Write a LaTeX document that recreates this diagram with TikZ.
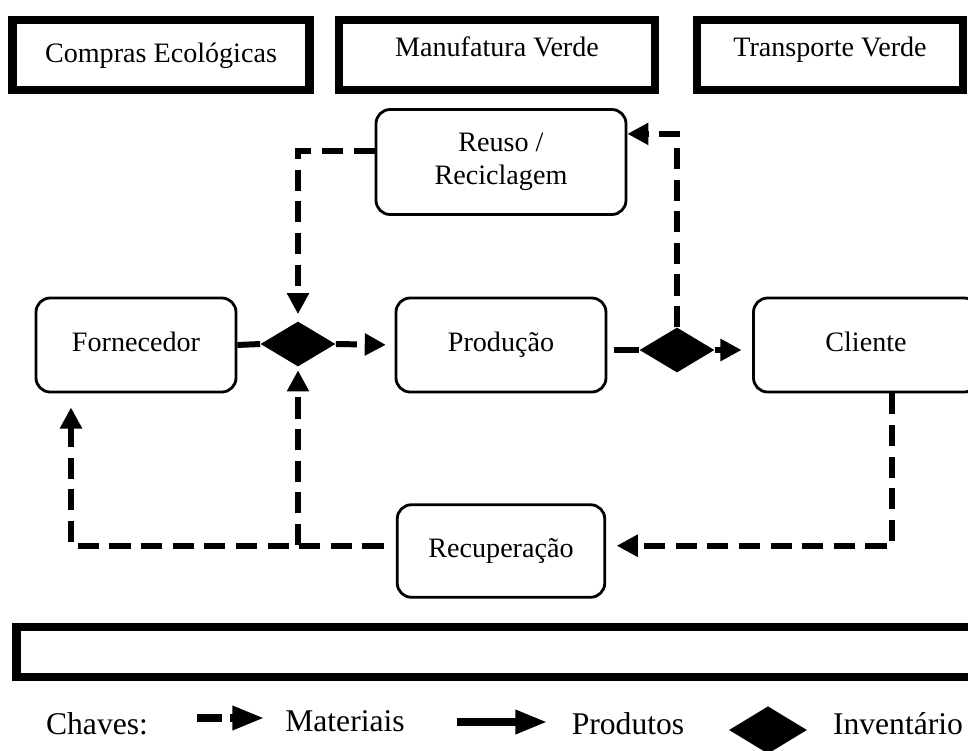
\documentclass[tikz,border=0pt]{standalone}
\usepackage{fontspec}
\setmainfont{Liberation Serif}
\usetikzlibrary{shapes.geometric,arrows.meta,positioning}
\begin{document}
\begin{tikzpicture}[x=0.02cm, y=-0.02cm, font=\fontsize{16}{19}\selectfont,
    main/.style = {draw, rounded corners=8pt, line width=1.6pt, align=center, minimum height=1.88cm},
    header/.style = {draw, line width=5pt, minimum height=1.4cm, text height=11pt, text depth=3pt},
    inv/.style = {diamond, fill=black, inner sep=0pt, minimum width=1.5cm, minimum height=0.9cm},
    flow/.style = {line width=3.4pt},
    mat/.style = {flow, dash pattern=on 12pt off 6pt, -{Triangle[length=12pt,width=12pt]}},
    prod/.style = {flow, -{Triangle[length=12pt,width=12pt]}}]
    \clip (0,0) rectangle (968,751);
    % faixas do topo
    \node[header, minimum width=5.94cm] (compras) at (161,55) {Compras Ecológicas};
    \node[header, minimum width=6.32cm, text depth=9pt] (manuf) at (497,55) {Manufatura Verde};
    \node[header, minimum width=5.32cm, text depth=9pt] (transp) at (830,55) {Transporte Verde};
    % processos
    \node[main, minimum width=5cm, minimum height=2.1cm] (reuso) at (501,162) {Reuso /\\Reciclagem};
    \node[main, minimum width=4cm, text height=11pt, text depth=4pt] (forn) at (136,345) {Fornecedor};
    \node[inv] (inv1) at (298,344) {};
    \node[main, minimum width=4.2cm, text height=11pt, text depth=4pt] (producao) at (501,345) {Produção};
    \node[inv] (inv2) at (677,350) {};
    \node[main, minimum width=4.5cm, text height=11pt, text depth=4pt] (cliente) at (866,345) {Cliente};
    \node[main, minimum width=4.15cm, minimum height=1.85cm, text height=11pt, text depth=4pt] (recup) at (501,551) {Recuperação};
    \coordinate (j) at (298,545);
    % faixa inferior
    \node[header, minimum width=19.46cm, minimum height=1cm] (base) at (503,652) {};
    % fluxos
    \draw[flow] (forn.east) -- (inv1.west);
    \draw[mat, shorten >=5pt] (inv1.east) -- (producao.west);
    \draw[flow] ([xshift=4pt]producao.east |- inv2.west) -- (inv2.west);
    \draw[prod, shorten >=6pt] (inv2.east) -- (cliente.west |- inv2.east);
    \draw[mat, shorten >=4pt] ([yshift=6pt]reuso.west) -| (inv1.north);
    \draw[mat] (inv2.north) |- ([yshift=16pt]reuso.east);
    \draw[mat, shorten >=6pt] ([xshift=15pt]cliente.south) |- ([yshift=3pt]recup.east);
    \draw[mat, shorten <=7pt, shorten >=8pt] ([yshift=3pt]recup.west) -| ([xshift=-37pt]forn.south);
    \draw[mat, shorten >=2pt] (j) -- (inv1.south);
    % legenda
    \begin{scope}[font=\fontsize{18}{21}\selectfont, text height=12pt, text depth=4pt]
        \node (chaves) at (97,727) {Chaves:};
        \coordinate (m1) at (197,718);
        \coordinate (m2) at (264,718);
        \draw[flow, line width=4pt, dash pattern=on 14pt off 5pt, -{Triangle[length=18pt,width=13pt]}] (m1) -- (m2);
        \node (materiais) at (345,724) {Materiais};
        \coordinate (p1) at (457,722);
        \coordinate (p2) at (547,722);
        \draw[prod, line width=4pt, -{Triangle[length=18pt,width=13pt]}] (p1) -- (p2);
        \node (produtos) at (628,727) {Produtos};
        \node[inv, minimum width=1.56cm, minimum height=0.95cm] (legdia) at (768,730) {};
        \node (inventario) at (898,727) {Inventário};
    \end{scope}
\end{tikzpicture}
\end{document}
